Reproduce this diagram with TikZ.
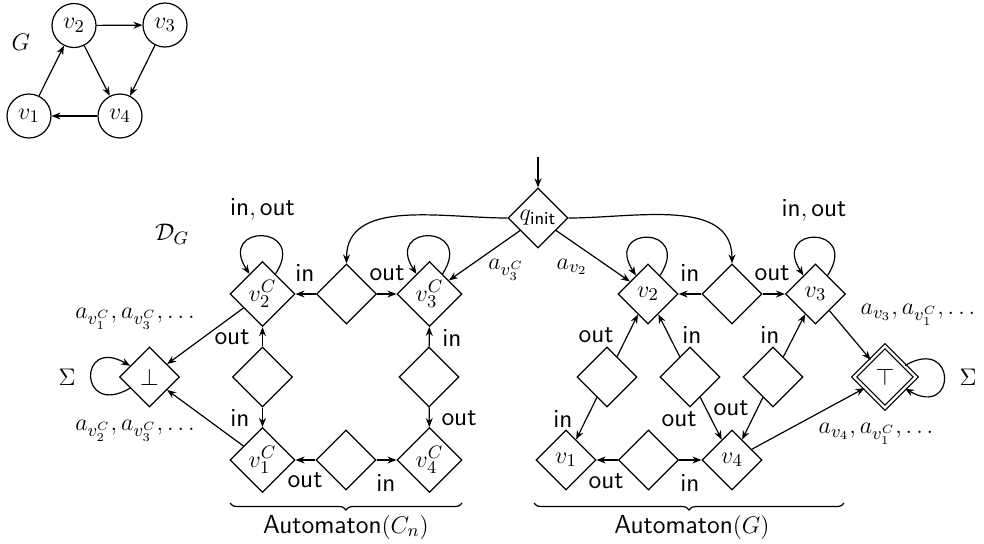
\documentclass[tikz,border=0pt]{standalone}
\usepackage{amsmath}
\usetikzlibrary{arrows.meta,shapes.geometric,decorations.pathreplacing}
\begin{document}
\begin{tikzpicture}[x=0.5pt,y=-0.5pt,
  every node/.style={font=\fontsize{13}{15}\selectfont},
  st/.style={draw, shape=diamond, aspect=1, inner sep=0pt, minimum size=30pt, line width=0.6pt},
  stc/.style={st, minimum size=32.5pt},
  gv/.style={draw, circle, inner sep=0pt, minimum size=22pt, line width=0.6pt},
  arr/.style={-{Stealth[length=4.5pt,width=3.5pt]}, line width=0.6pt},
  lp/.style={arr, distance=30pt},
  lbl/.style={inner sep=0pt},
  brc/.style={decorate, decoration={brace, mirror, amplitude=3.5pt}, line width=0.6pt},
]
\useasboundingbox (0,0) rectangle (984,543);

% graph G
\node[gv] (g2) at (74,25.5) {$v_2$};
\node[gv] (g3) at (165,25) {$v_3$};
\node[gv] (g1) at (29,116) {$v_1$};
\node[gv] (g4) at (120,116) {$v_4$};
\node[lbl] (gl) at (21,42) {$G$};
\draw[arr] (g1) -- (g2);
\draw[arr] (g2) -- (g3);
\draw[arr] (g2) -- (g4);
\draw[arr] (g3) -- (g4);
\draw[arr] (g4) -- (g1);

% states
\node[st, inner sep=-2pt] (q) at (538,218) {$q_{\textsf{init}}$};
\node[st] (mL) at (346.5,294) {};
\node[stc] (v2C) at (262.5,294) {$v_2^C$};
\node[stc] (v3C) at (429.5,294) {$v_3^C$};
\node[st] (dL1) at (262.5,377) {};
\node[st] (dL2) at (429,377) {};
\node[stc] (v1C) at (262.5,460) {$v_1^C$};
\node[st] (mLb) at (346,460) {};
\node[stc] (v4C) at (429.5,460) {$v_4^C$};
\node[st] (bot) at (149.5,377) {$\bot$};
\node[st] (v2) at (648,294) {$v_2$};
\node[st] (mR) at (732,294) {};
\node[st] (v3) at (815.5,294) {$v_3$};
\node[st] (e1) at (607,377) {};
\node[st] (e2) at (690,377) {};
\node[st] (e3) at (773,377) {};
\node[st] (v1) at (566,460) {$v_1$};
\node[st] (mRb) at (648.5,460) {};
\node[st] (v4) at (732,460) {$v_4$};
\node[st, double, double distance=1.2pt, minimum size=31pt] (top) at (885,377) {$\top$};

\coordinate (qin) at (538,157);
\draw[arr] (qin) -- (q);
\draw[arr] (q.west) to[out=180,in=90] (mL.north);
\draw[arr] (q.east) to[out=0,in=90] (mR.north);
\draw[arr] (q) -- (v3C);
\draw[arr] (q) -- (v2);

\draw[arr] (mL) -- (v2C);
\draw[arr] (mL) -- (v3C);
\draw[arr] (dL1) -- (v2C);
\draw[arr] (dL1) -- (v1C);
\draw[arr] (dL2) -- (v3C);
\draw[arr] (dL2) -- (v4C);
\draw[arr] (mLb) -- (v1C);
\draw[arr] (mLb) -- (v4C);
\draw[arr] (v2C) -- (bot);
\draw[arr] (v1C) -- (bot);

\draw[arr] (mR) -- (v2);
\draw[arr] (mR) -- (v3);
\draw[arr] (e1) -- (v2);
\draw[arr] (e1) -- (v1);
\draw[arr] (e2) -- (v2);
\draw[arr] (e2) -- (v4);
\draw[arr] (e3) -- (v3);
\draw[arr] (e3) -- (v4);
\draw[arr] (mRb) -- (v1);
\draw[arr] (mRb) -- (v4);
\draw[arr] (v3) -- (top);
\draw[arr] (v4) -- (top);

% loops
\draw[lp] (v2C) to[out=57,in=123] (v2C);
\draw[lp] (v3C) to[out=57,in=123] (v3C);
\draw[lp] (v2) to[out=57,in=123] (v2);
\draw[lp] (v3) to[out=57,in=123] (v3);
\draw[lp] (bot) to[out=210,in=150] (bot);
\draw[lp] (top) to[out=30,in=-30] (top);

% labels
\node[lbl] (l1) at (262.5,209) {$\textsf{in}, \textsf{out}$};
\node[lbl] (l2) at (814,210) {$\textsf{in}, \textsf{out}$};
\node[lbl] (l3) at (172,234) {$\mathcal{D}_G$};
\node[lbl] (l4) at (67,377) {$\Sigma$};
\node[lbl] (l5) at (968,377) {$\Sigma$};
\node[lbl] (l6) at (506,270) {$a_{v_3^C}$};
\node[lbl] (l7) at (572,267) {$a_{v_2}$};
\node[lbl] (l8) at (305,273) {\textsf{in}};
\node[lbl] (l9) at (387,273) {\textsf{out}};
\node[lbl] (l10) at (232,337) {\textsf{out}};
\node[lbl] (l11) at (452,338) {\textsf{in}};
\node[lbl] (l12) at (240,418) {\textsf{in}};
\node[lbl] (l13) at (459,418) {\textsf{out}};
\node[lbl] (l14) at (305,480) {\textsf{out}};
\node[lbl] (l15) at (386,483) {\textsf{in}};
\node[lbl] (l16) at (135,319) {$a_{v_1^C}, a_{v_3^C}, \ldots$};
\node[lbl] (l17) at (135,431) {$a_{v_2^C}, a_{v_3^C}, \ldots$};
\node[lbl] (l18) at (690,273) {\textsf{in}};
\node[lbl] (l19) at (772,273) {\textsf{out}};
\node[lbl] (l20) at (596,335) {\textsf{out}};
\node[lbl] (l21) at (692,335) {\textsf{in}};
\node[lbl] (l22) at (770,335) {\textsf{in}};
\node[lbl] (l23) at (563,419) {\textsf{in}};
\node[lbl] (l24) at (679,419) {\textsf{out}};
\node[lbl] (l25) at (731,408) {\textsf{out}};
\node[lbl] (l26) at (606,481) {\textsf{out}};
\node[lbl] (l27) at (690,483) {\textsf{in}};
\node[lbl] (l28) at (918,315) {$a_{v_3}, a_{v_1^C}, \ldots$};
\node[lbl] (l29) at (876,434) {$a_{v_4}, a_{v_1^C}, \ldots$};

% braces
\coordinate (b1) at (230,503);
\coordinate (b2) at (462,503);
\coordinate (b3) at (534,503);
\coordinate (b4) at (844,503);
\draw[brc] (b1) -- (b2);
\draw[brc] (b3) -- (b4);
\node[lbl] (au1) at (346,527) {\textsf{Automaton}$(C_n)$};
\node[lbl] (au2) at (692,527) {\textsf{Automaton}$(G)$};
\end{tikzpicture}
\end{document}
